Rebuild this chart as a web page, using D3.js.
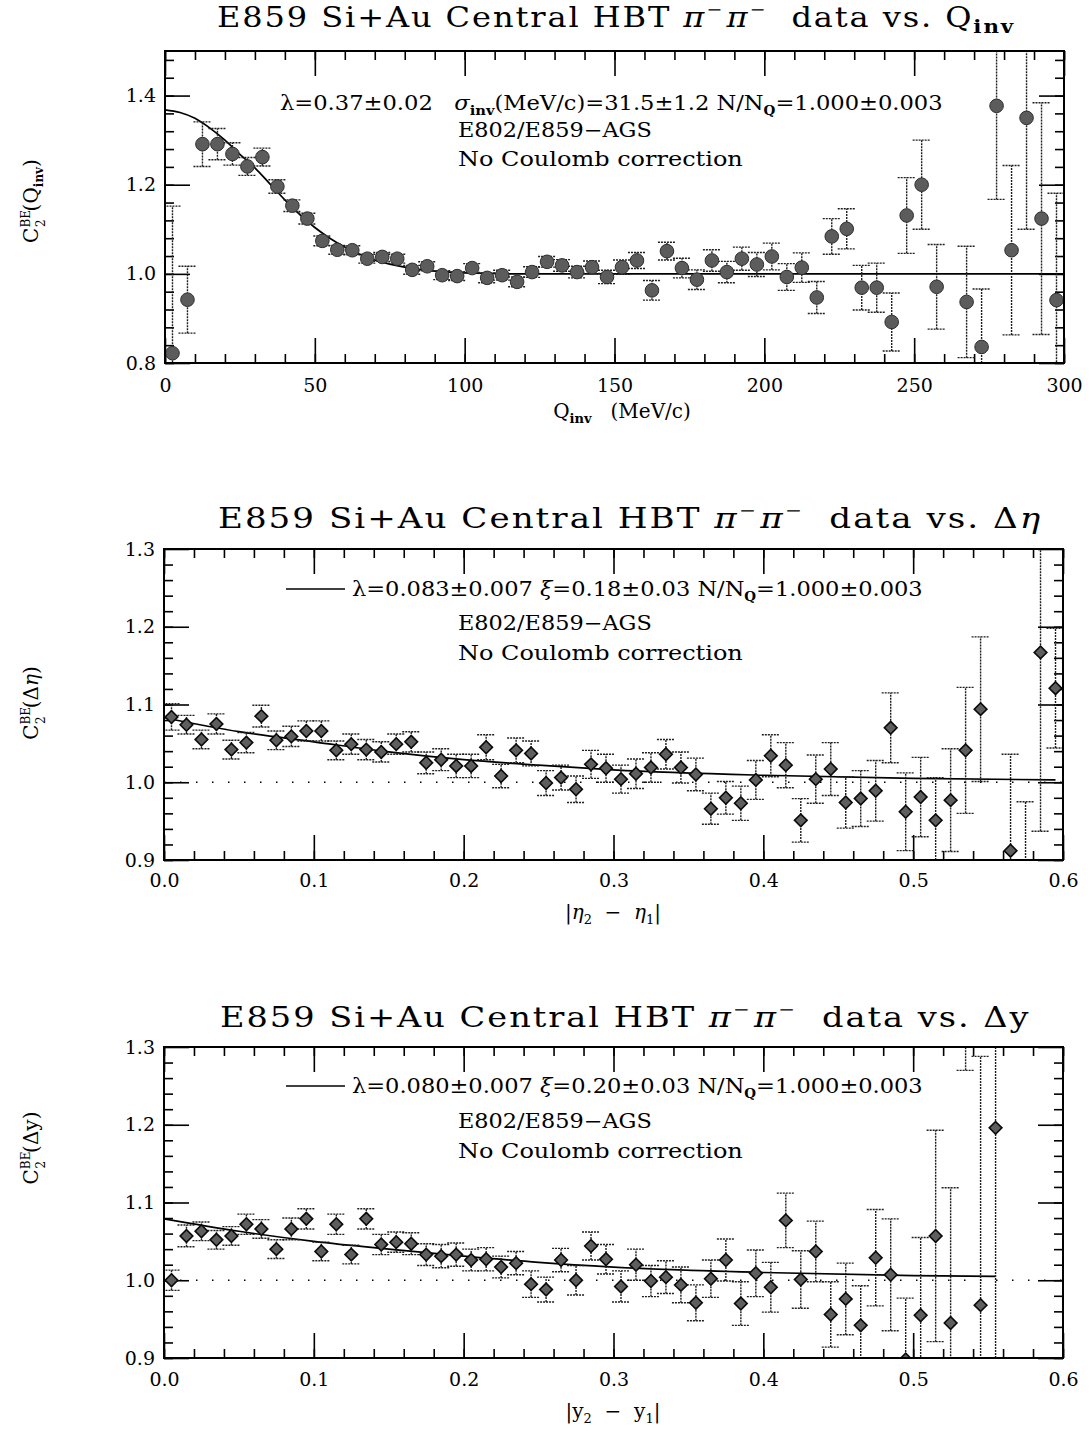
<!DOCTYPE html>
<html>
<head>
<meta charset="utf-8">
<script src="https://cdn.jsdelivr.net/npm/d3@7"></script>
<style>
  body { margin: 0; background: #fff; }
  svg text { font-family: "DejaVu Serif", serif; fill: #000; white-space: pre; }
</style>
</head>
<body>
<svg width="1092" height="1432"></svg>
<script>
// ---- panel 1: C2 vs Qinv ----
const qInv = [2.5, 7.5, 12.5, 17.5, 22.5, 27.5, 32.5, 37.5, 42.5, 47.5, 52.5, 57.5, 62.5, 67.5, 72.5, 77.5,
  82.5, 87.5, 92.5, 97.5, 102.5, 107.5, 112.5, 117.5, 122.5, 127.5, 132.5, 137.5, 142.5, 147.5, 152.5,
  157.5, 162.5, 167.5, 172.5, 177.5, 182.5, 187.5, 192.5, 197.5, 202.5, 207.5, 212.5, 217.5, 222.5,
  227.5, 232.5, 237.5, 242.5, 247.5, 252.5, 257.5, 267.5, 272.5, 277.5, 282.5, 287.5, 292.5, 297.5];
const cQinv = [0.822, 0.942, 1.291, 1.291, 1.269, 1.241, 1.262, 1.196, 1.153, 1.124, 1.074, 1.054, 1.053,
  1.034, 1.038, 1.034, 1.009, 1.017, 0.997, 0.995, 1.013, 0.991, 0.997, 0.982, 1.004, 1.027, 1.019, 1.004,
  1.015, 0.993, 1.015, 1.030, 0.963, 1.051, 1.013, 0.987, 1.030, 1.004, 1.034, 1.021, 1.039, 0.993, 1.014,
  0.947, 1.084, 1.101, 0.969, 0.969, 0.892, 1.131, 1.200, 0.971, 0.937, 0.836, 1.377, 1.053, 1.350, 1.124, 0.941];
const errQinv = [0.33, 0.075, 0.05, 0.035, 0.025, 0.02, 0.02, 0.015, 0.013, 0.012, 0.011, 0.01, 0.01, 0.01,
  0.01, 0.01, 0.01, 0.01, 0.01, 0.01, 0.01, 0.011, 0.011, 0.011, 0.012, 0.012, 0.013, 0.013, 0.014, 0.015,
  0.016, 0.018, 0.022, 0.02, 0.022, 0.022, 0.024, 0.024, 0.026, 0.027, 0.03, 0.03, 0.033, 0.036, 0.04,
  0.045, 0.05, 0.055, 0.065, 0.085, 0.1, 0.095, 0.125, 0.13, 0.21, 0.19, 0.25, 0.26, 0.24];
const fitQ = [0, 5, 10, 15, 20, 25, 30, 35, 40, 45, 50, 55, 60, 65, 70, 75, 80, 90, 100, 120, 300];
const fitCQ = [1.368, 1.362, 1.349, 1.327, 1.300, 1.268, 1.238, 1.202, 1.166, 1.133, 1.104, 1.080, 1.060,
  1.044, 1.031, 1.022, 1.015, 1.006, 1.002, 1.000, 1.000];

// ---- panel 2: C2 vs delta eta ----
const dEta = [0.005, 0.015, 0.025, 0.035, 0.045, 0.055, 0.065, 0.075, 0.085, 0.095, 0.105, 0.115, 0.125,
  0.135, 0.145, 0.155, 0.165, 0.175, 0.185, 0.195, 0.205, 0.215, 0.225, 0.235, 0.245, 0.255, 0.265, 0.275,
  0.285, 0.295, 0.305, 0.315, 0.325, 0.335, 0.345, 0.355, 0.365, 0.375, 0.385, 0.395, 0.405, 0.415, 0.425,
  0.435, 0.445, 0.455, 0.465, 0.475, 0.485, 0.495, 0.505, 0.515, 0.525, 0.535, 0.545, 0.565, 0.575, 0.585, 0.595];
const cEta = [1.084, 1.074, 1.055, 1.075, 1.042, 1.051, 1.085, 1.054, 1.059, 1.066, 1.066, 1.041, 1.049,
  1.042, 1.039, 1.049, 1.052, 1.025, 1.029, 1.021, 1.021, 1.045, 1.008, 1.041, 1.037, 0.999, 1.006, 0.991,
  1.023, 1.018, 1.004, 1.011, 1.019, 1.036, 1.019, 1.010, 0.966, 0.980, 0.973, 1.003, 1.034, 1.022, 0.951,
  1.004, 1.017, 0.974, 0.979, 0.989, 1.070, 0.962, 0.981, 0.951, 0.977, 1.041, 1.094, 0.912, 0.850, 1.167, 1.121];
const errEta = [0.017, 0.012, 0.012, 0.013, 0.012, 0.013, 0.014, 0.012, 0.013, 0.013, 0.013, 0.012, 0.013,
  0.013, 0.013, 0.013, 0.013, 0.014, 0.014, 0.015, 0.015, 0.016, 0.015, 0.016, 0.016, 0.016, 0.016, 0.017,
  0.018, 0.018, 0.018, 0.019, 0.019, 0.019, 0.02, 0.021, 0.02, 0.021, 0.022, 0.025, 0.027, 0.029, 0.028,
  0.031, 0.034, 0.033, 0.036, 0.039, 0.045, 0.05, 0.051, 0.055, 0.066, 0.081, 0.093, 0.124, 0.125, 0.23, 0.077];
const fitEtaX = [0, 0.05, 0.1, 0.15, 0.2, 0.25, 0.3, 0.4, 0.5, 0.595];
const fitEtaC = [1.083, 1.065, 1.052, 1.039, 1.029, 1.022, 1.016, 1.009, 1.005, 1.003];

// ---- panel 3: C2 vs delta y ----
const dY = [0.005, 0.015, 0.025, 0.035, 0.045, 0.055, 0.065, 0.075, 0.085, 0.095, 0.105, 0.115, 0.125,
  0.135, 0.145, 0.155, 0.165, 0.175, 0.185, 0.195, 0.205, 0.215, 0.225, 0.235, 0.245, 0.255, 0.265, 0.275,
  0.285, 0.295, 0.305, 0.315, 0.325, 0.335, 0.345, 0.355, 0.365, 0.375, 0.385, 0.395, 0.405, 0.415, 0.425,
  0.435, 0.445, 0.455, 0.465, 0.475, 0.485, 0.495, 0.505, 0.515, 0.525, 0.535, 0.545, 0.555];
const cY = [1.000, 1.057, 1.063, 1.052, 1.057, 1.072, 1.066, 1.040, 1.066, 1.079, 1.037, 1.072, 1.033,
  1.079, 1.046, 1.049, 1.047, 1.033, 1.031, 1.033, 1.026, 1.027, 1.017, 1.022, 0.995, 0.988, 1.026, 1.000,
  1.044, 1.027, 0.992, 1.020, 0.999, 1.004, 0.994, 0.971, 1.002, 1.026, 0.970, 1.009, 0.991, 1.077, 1.001,
  1.037, 0.956, 0.976, 0.942, 1.029, 1.007, 0.898, 0.955, 1.057, 0.945, 1.400, 0.968, 1.196];
const errY = [0.013, 0.014, 0.012, 0.012, 0.012, 0.013, 0.012, 0.012, 0.014, 0.013, 0.012, 0.013, 0.012,
  0.013, 0.013, 0.013, 0.014, 0.014, 0.015, 0.015, 0.014, 0.015, 0.014, 0.015, 0.017, 0.016, 0.015, 0.019,
  0.018, 0.019, 0.02, 0.02, 0.02, 0.021, 0.023, 0.023, 0.024, 0.027, 0.028, 0.03, 0.032, 0.035, 0.037,
  0.039, 0.042, 0.046, 0.051, 0.062, 0.072, 0.079, 0.1, 0.136, 0.174, 0.13, 0.32, 0.35];
const fitYX = [0, 0.05, 0.1, 0.15, 0.2, 0.25, 0.3, 0.4, 0.5, 0.555];
const fitYC = [1.079, 1.063, 1.050, 1.040, 1.031, 1.023, 1.017, 1.010, 1.006, 1.005];

// reference line C2 = 1
const refX = [0, 0.6];
const refC = [1, 1];

const xTicksQ = [0, 50, 100, 150, 200, 250, 300];
const yTicksQ = [0.8, 1.0, 1.2, 1.4];
const xTicksD = [0, 0.1, 0.2, 0.3, 0.4, 0.5, 0.6];
const yTicksD = [0.9, 1.0, 1.1, 1.2, 1.3];

const svg = d3.select('svg');

// rich text from parts: {t, size, dy, dx, it, b}
function rich(sel, parts) {
  parts.forEach(p => {
    const ts = sel.append('tspan').text(p.t);
    if (p.size) ts.attr('font-size', p.size);
    if (p.dy) ts.attr('dy', p.dy);
    if (p.dx) ts.attr('dx', p.dx);
    if (p.it) ts.attr('font-style', 'italic');
    if (p.b) ts.attr('font-weight', 'bold');
  });
  return sel;
}

// stretch the glyphs horizontally so the text spans target px (old Schoolbook face is wider)
function stretchTo(sel, target) {
  const x0 = +sel.attr('x');
  const m = sel.node().getComputedTextLength();
  const sx = target / m;
  sel.attr('transform', `translate(${x0},0) scale(${sx.toFixed(4)},1) translate(${-x0},0)`);
}

function panel(cfg, idx) {
  const w = cfg.right - cfg.left, h = cfg.bottom - cfg.top;
  const g = svg.append('g').attr('transform', `translate(${cfg.left},${cfg.top})`);
  const x = d3.scaleLinear().domain(cfg.xDomain).range([0, w]);
  const y = d3.scaleLinear().domain(cfg.yDomain).range([h, 0]);

  g.append('clipPath').attr('id', 'clip' + idx)
    .append('rect').attr('width', w).attr('height', h);

  const axisStyle = sel => {
    sel.select('.domain').remove();
    sel.selectAll('line').attr('stroke', '#000').attr('stroke-width', 1.6);
    sel.attr('font-family', 'DejaVu Serif').attr('font-size', 19);
    sel.selectAll('text').attr('fill', '#000');
  };
  const none = () => '';

  // minor ticks, all four sides
  g.append('g').attr('transform', `translate(0,${h})`)
    .call(d3.axisBottom(x).tickValues(cfg.xMinor).tickSizeInner(-9).tickSizeOuter(0).tickFormat(none)).call(axisStyle);
  g.append('g')
    .call(d3.axisTop(x).tickValues(cfg.xMinor).tickSizeInner(-9).tickSizeOuter(0).tickFormat(none)).call(axisStyle);
  g.append('g')
    .call(d3.axisLeft(y).tickValues(cfg.yMinor).tickSizeInner(-9).tickSizeOuter(0).tickFormat(none)).call(axisStyle);
  g.append('g').attr('transform', `translate(${w},0)`)
    .call(d3.axisRight(y).tickValues(cfg.yMinor).tickSizeInner(-9).tickSizeOuter(0).tickFormat(none)).call(axisStyle);

  // major ticks with labels
  g.append('g').attr('transform', `translate(0,${h})`)
    .call(d3.axisBottom(x).tickValues(cfg.xTicks).tickSizeInner(-25).tickSizeOuter(0)
      .tickPadding(cfg.xPad).tickFormat(cfg.xFmt)).call(axisStyle);
  g.append('g')
    .call(d3.axisTop(x).tickValues(cfg.xTicks).tickSizeInner(-25).tickSizeOuter(0).tickFormat(none)).call(axisStyle);
  g.append('g')
    .call(d3.axisLeft(y).tickValues(cfg.yTicks).tickSizeInner(-25).tickSizeOuter(0)
      .tickPadding(9).tickFormat(d3.format('.1f'))).call(axisStyle);
  g.append('g').attr('transform', `translate(${w},0)`)
    .call(d3.axisRight(y).tickValues(cfg.yTicks).tickSizeInner(-25).tickSizeOuter(0).tickFormat(none)).call(axisStyle);

  const plot = g.append('g').attr('clip-path', `url(#clip${idx})`);

  // dotted reference line
  if (cfg.ref) {
    const pts = refX.map((v, i) => [v, refC[i]]);
    plot.append('path').datum(pts)
      .attr('fill', 'none').attr('stroke', '#000').attr('stroke-width', 1.5)
      .attr('stroke-dasharray', '1.5,14.5')
      .attr('d', d3.line().x(d => x(d[0])).y(d => y(d[1])));
  }

  // fit curve
  const fit = cfg.fitX.map((v, i) => [v, cfg.fitY[i]]);
  plot.append('path').datum(fit)
    .attr('fill', 'none').attr('stroke', '#000').attr('stroke-width', 1.7)
    .attr('d', d3.line().curve(d3.curveMonotoneX).x(d => x(d[0])).y(d => y(d[1])));

  const data = cfg.xs.map((v, i) => ({ x: v, c: cfg.ys[i], e: cfg.es[i] }));

  // error bars
  const eb = plot.append('g').attr('stroke', '#1e1e1e').attr('stroke-width', 1.4)
    .attr('stroke-dasharray', '2,1');
  const cap = 9;
  eb.selectAll('line.v').data(data).join('line').attr('class', 'v')
    .attr('x1', d => x(d.x)).attr('x2', d => x(d.x))
    .attr('y1', d => y(d.c - d.e)).attr('y2', d => y(d.c + d.e));
  eb.selectAll('line.t').data(data).join('line').attr('class', 't')
    .attr('x1', d => x(d.x) - cap).attr('x2', d => x(d.x) + cap)
    .attr('y1', d => y(d.c + d.e)).attr('y2', d => y(d.c + d.e));
  eb.selectAll('line.b').data(data).join('line').attr('class', 'b')
    .attr('x1', d => x(d.x) - cap).attr('x2', d => x(d.x) + cap)
    .attr('y1', d => y(d.c - d.e)).attr('y2', d => y(d.c - d.e));

  // markers
  if (cfg.marker === 'circle') {
    plot.selectAll('circle.pt').data(data).join('circle').attr('class', 'pt')
      .attr('cx', d => x(d.x)).attr('cy', d => y(d.c)).attr('r', 6.8)
      .attr('fill', '#5c5c5c').attr('stroke', '#2e2e2e').attr('stroke-width', 1);
  } else {
    const sym = d3.symbol(d3.symbolSquare, 80);
    plot.selectAll('path.pt').data(data).join('path').attr('class', 'pt')
      .attr('transform', d => `translate(${x(d.x)},${y(d.c)}) rotate(45)`)
      .attr('d', sym)
      .attr('fill', '#5e5e5e').attr('stroke', '#0a0a0a').attr('stroke-width', 1.6);
  }

  // frame
  g.append('rect').attr('width', w).attr('height', h)
    .attr('fill', 'none').attr('stroke', '#000').attr('stroke-width', 2);

  return { g, x, y, w, h };
}

const panels = [
  { left: 165, right: 1064, top: 51, bottom: 363, xDomain: [0, 300], yDomain: [0.8, 1.5],
    xTicks: xTicksQ, xMinor: d3.range(0, 301, 10), yTicks: yTicksQ, yMinor: d3.range(0.8, 1.5, 0.04),
    xFmt: d3.format('d'), xPad: 16, xs: qInv, ys: cQinv, es: errQinv, fitX: fitQ, fitY: fitCQ,
    marker: 'circle', ref: false },
  { left: 164, right: 1063, top: 549, bottom: 860, xDomain: [0, 0.6], yDomain: [0.9, 1.3],
    xTicks: xTicksD, xMinor: d3.range(0, 0.601, 0.02), yTicks: yTicksD, yMinor: d3.range(0.9, 1.3, 0.02),
    xFmt: d3.format('.1f'), xPad: 14, xs: dEta, ys: cEta, es: errEta, fitX: fitEtaX, fitY: fitEtaC,
    marker: 'diamond', ref: true },
  { left: 164, right: 1063, top: 1047, bottom: 1358, xDomain: [0, 0.6], yDomain: [0.9, 1.3],
    xTicks: xTicksD, xMinor: d3.range(0, 0.601, 0.02), yTicks: yTicksD, yMinor: d3.range(0.9, 1.3, 0.02),
    xFmt: d3.format('.1f'), xPad: 15, xs: dY, ys: cY, es: errY, fitX: fitYX, fitY: fitYC,
    marker: 'diamond', ref: true }
];
panels.forEach((p, i) => panel(p, i));

// ---- titles ----
const piPart = [
  { t: 'π', it: true }, { t: '−', size: 16, dy: -12 },
  { t: 'π', it: true, dy: 12, dx: 2 }, { t: '−', size: 16, dy: -12 }
];
const head = 'E859 Si+Au Central HBT ';
const titles = [
  { x: 217, y: 27, w: 796, tail: [{ t: 'Q' }, { t: 'inv', size: 18, dy: 6, b: true }] },
  { x: 218, y: 528, w: 822, tail: [{ t: 'Δ' }, { t: 'η', it: true }] },
  { x: 220, y: 1027, w: 808, tail: [{ t: 'Δy' }] }
];
titles.forEach(tt => {
  const t = rich(svg.append('text').attr('x', tt.x).attr('y', tt.y).attr('font-size', 27)
    .attr('letter-spacing', 1.6),
    [{ t: head }, ...piPart, { t: '  data vs. ', dy: 12 }, ...tt.tail]);
  stretchTo(t, tt.w);
});

// ---- annotations ----
const a1 = rich(svg.append('text').attr('x', 280).attr('y', 110).attr('font-size', 20),
  [{ t: 'λ=0.37±0.02   ' }, { t: 'σ', it: true }, { t: 'inv', size: 13, dy: 5, b: true },
   { t: '(MeV/c)=31.5±1.2 N/N', dy: -5 }, { t: 'Q', size: 12, dy: 5, b: true }, { t: '=1.000±0.003', dy: -5 }]);
stretchTo(a1, 663);

const legendRows = [
  { y: 596, text: 'λ=0.083±0.007 ', xi: '=0.18±0.03 N/N' },
  { y: 1093, text: 'λ=0.080±0.007 ', xi: '=0.20±0.03 N/N' }
];
legendRows.forEach(r => {
  svg.append('line').attr('x1', 286).attr('x2', 345).attr('y1', r.y - 7).attr('y2', r.y - 7)
    .attr('stroke', '#000').attr('stroke-width', 1.7);
  const t = rich(svg.append('text').attr('x', 352).attr('y', r.y).attr('font-size', 20),
    [{ t: r.text }, { t: 'ξ', it: true }, { t: r.xi }, { t: 'Q', size: 12, dy: 5, b: true }, { t: '=1.000±0.003', dy: -5 }]);
  stretchTo(t, 571);
});

[[137, 166.5], [630.5, 660], [1128, 1158]].forEach(([y1, y2]) => {
  const e = svg.append('text').attr('x', 458).attr('y', y1).attr('font-size', 20).text('E802/E859−AGS');
  stretchTo(e, 194);
  const n = svg.append('text').attr('x', 458).attr('y', y2).attr('font-size', 20).text('No Coulomb correction');
  stretchTo(n, 285);
});

// ---- axis titles ----
rich(svg.append('text').attr('x', 622).attr('y', 418).attr('font-size', 20).attr('text-anchor', 'middle'),
  [{ t: 'Q' }, { t: 'inv', size: 13, dy: 5, b: true }, { t: '   (MeV/c)', dy: -5 }]);
rich(svg.append('text').attr('x', 613).attr('y', 919).attr('font-size', 20).attr('text-anchor', 'middle'),
  [{ t: '|' }, { t: 'η', it: true }, { t: '2', size: 13, dy: 5 }, { t: '  −  ', dy: -5 },
   { t: 'η', it: true }, { t: '1', size: 13, dy: 5 }, { t: '|', dy: -5 }]);
rich(svg.append('text').attr('x', 613).attr('y', 1418).attr('font-size', 20).attr('text-anchor', 'middle'),
  [{ t: '|y' }, { t: '2', size: 13, dy: 5 }, { t: '  −  y', dy: -5 }, { t: '1', size: 13, dy: 5 }, { t: '|', dy: -5 }]);

function yTitle(cy, tail) {
  const t = svg.append('text').attr('transform', `translate(38,${cy}) rotate(-90)`)
    .attr('font-size', 20).attr('text-anchor', 'middle');
  rich(t, [{ t: 'C' }, { t: 'BE', size: 12, dy: -8 }, { t: '2', size: 12, dx: -17, dy: 15 },
    { t: '(', dx: 8, dy: -7 }, ...tail]);
}
yTitle(201, [{ t: 'Q' }, { t: 'inv', size: 12, dy: 5, b: true }, { t: ')', dy: -5 }]);
yTitle(703, [{ t: 'Δ' }, { t: 'η', it: true }, { t: ')' }]);
yTitle(1148, [{ t: 'Δy)' }]);
</script>
</body>
</html>
